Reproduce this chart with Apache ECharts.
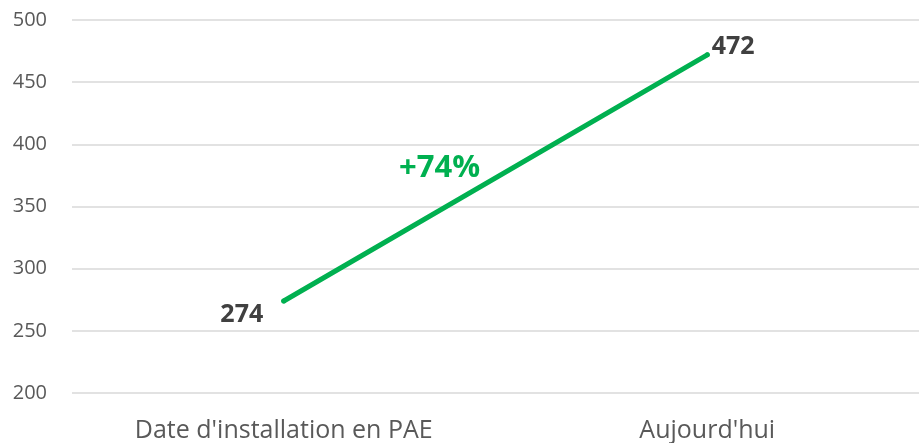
<!DOCTYPE html>
<html>
<head>
<meta charset="utf-8">
<script src="https://cdn.jsdelivr.net/npm/echarts@6/dist/echarts.min.js"></script>
<style>
  html, body { margin: 0; padding: 0; background: #fff; }
  #line { width: 919px; height: 443px; }
</style>
</head>
<body>
<div id="line"></div>
<script>
var categories = ["Date d'installation en PAE", "Aujourd'hui"];
var values = [274, 472];
var yTicks = { min: 200, max: 500, step: 50 };
var growthText = '+74%';

var myChart = echarts.init(document.getElementById('line'));

var labelPos = [
    { position: 'left', distance: 18, offset: [0, 14] },
    { position: 'right', distance: 2, offset: [0, -8] }
];

option = {
    textStyle: { fontFamily: 'Open Sans' },
    grid: {
        left: 72,
        top: 20,
        width: 856,
        height: 373
    },
    xAxis: {
        type: 'category',
        boundaryGap: true,
        data: categories,
        axisLine: { show: false },
        axisTick: { show: false },
        axisLabel: { color: '#595959', fontSize: 25, margin: 25, fontFamily: 'Open Sans' }
    },
    yAxis: {
        type: 'value',
        min: yTicks.min,
        max: yTicks.max,
        interval: yTicks.step,
        axisLine: { show: false },
        axisTick: { show: false },
        axisLabel: { color: '#595959', fontSize: 20, margin: 25, fontFamily: 'Open Sans' },
        splitLine: { lineStyle: { color: '#d9d9d9', width: 1.5 } }
    },
    graphic: [{
        type: 'text',
        left: 399,
        top: 153,
        style: {
            text: growthText,
            fill: '#00b050',
            font: 'bold 31px "Open Sans"'
        }
    }],
    series: [{
        type: 'line',
        data: values.map(function (v, i) {
            return { value: v, label: labelPos[i] };
        }),
        symbol: 'circle',
        symbolSize: 5,
        lineStyle: { color: '#00b050', width: 5, cap: 'round' },
        itemStyle: { color: '#00b050' },
        label: {
            show: true,
            color: '#404040',
            fontSize: 25,
            fontWeight: 'bold',
            fontFamily: 'Open Sans'
        }
    }]
};

myChart.setOption(option);
</script>
</body>
</html>
